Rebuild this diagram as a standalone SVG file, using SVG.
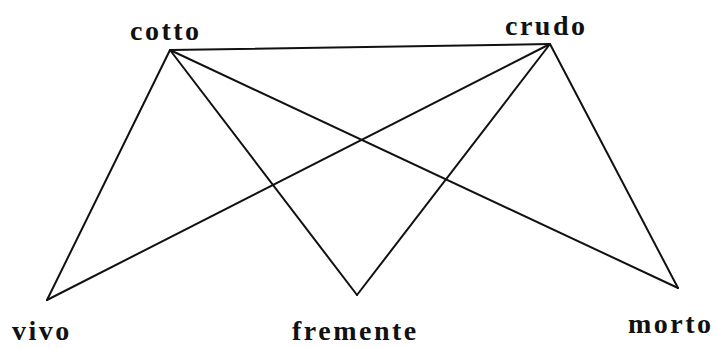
<svg xmlns="http://www.w3.org/2000/svg" width="728" height="348" viewBox="0 0 728 348">
<style>
.e{stroke:#111;stroke-width:2;fill:none;stroke-linecap:round}
.t{font-family:"Liberation Serif","Times New Roman",serif;font-weight:bold;font-size:28px;letter-spacing:2.5px;fill:#111}
</style>
<rect width="728" height="348" fill="#fff"/>
<g id="connectors">
<line class="e" x1="170" y1="50" x2="550" y2="44"/>
<line class="e" x1="170" y1="50" x2="47" y2="300"/>
<line class="e" x1="170" y1="50" x2="357" y2="295"/>
<line class="e" x1="170" y1="50" x2="678" y2="288"/>
<line class="e" x1="550" y1="44" x2="47" y2="300"/>
<line class="e" x1="550" y1="44" x2="357" y2="295"/>
<line class="e" x1="550" y1="44" x2="678" y2="288"/>
</g>
<g id="cotto"><text class="t" x="130" y="40">cotto</text></g>
<g id="crudo"><text class="t" x="505" y="35">crudo</text></g>
<g id="vivo"><text class="t" x="12" y="340">vivo</text></g>
<g id="fremente"><text class="t" x="292" y="340">fremente</text></g>
<g id="morto"><text class="t" x="628" y="333">morto</text></g>
</svg>
